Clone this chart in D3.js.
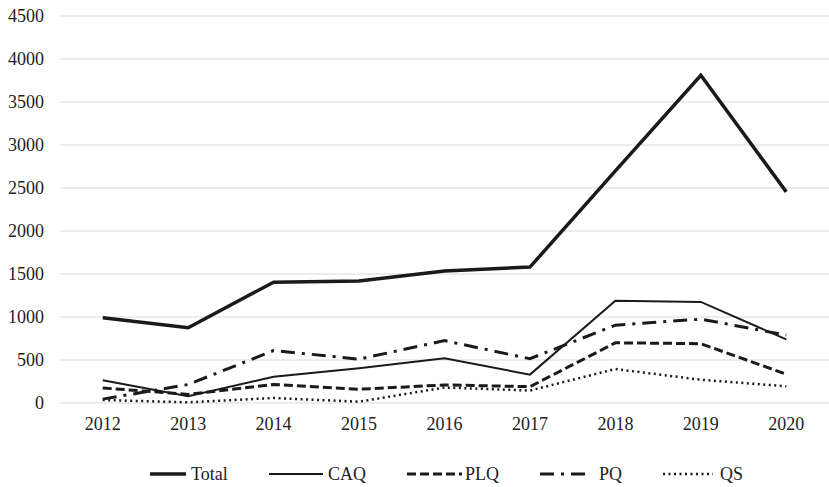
<html>
    <head>
        <script src="https://cdn.jsdelivr.net/npm/d3@7"></script>
        <style>
            body { margin: 0; background: #fff; }
            text { font-family: "Liberation Serif", "Times New Roman", serif; font-size: 18px; fill: #222; }
        </style>
    </head>
    <body>
        <svg width="829" height="487"></svg>
        <script>

            // Data:
            var years = ["2012", "2013", "2014", "2015", "2016", "2017", "2018", "2019", "2020"];
            var total = [990, 875, 1405, 1420, 1535, 1580, 2700, 3810, 2455];
            var caq = [265, 80, 305, 405, 520, 330, 1190, 1175, 740];
            var plq = [175, 100, 215, 160, 210, 190, 700, 690, 335];
            var pq = [45, 215, 610, 510, 725, 515, 905, 975, 790];
            var qs = [35, 8, 58, 15, 180, 145, 395, 270, 195];
            var yTicks = [0, 500, 1000, 1500, 2000, 2500, 3000, 3500, 4000, 4500];

            var series = [
                { name: "Total", values: total, width: 3.5, dash: null },
                { name: "CAQ", values: caq, width: 2, dash: null },
                { name: "PLQ", values: plq, width: 3, dash: "9,4" },
                { name: "PQ", values: pq, width: 3, dash: "14,7,3,7" },
                { name: "QS", values: qs, width: 2.5, dash: "2,3.5" }
            ];

            var svg = d3.select("svg");

            var x = d3.scaleBand().domain(years).range([60, 829]);
            var y = d3.scaleLinear().domain([0, 4500]).range([403, 16]);

            // Gridlines
            svg.append("g").selectAll("line")
                .data(yTicks)
                .enter().append("line")
                    .attr("x1", 60).attr("x2", 829)
                    .attr("y1", function(d) { return y(d); })
                    .attr("y2", function(d) { return y(d); })
                    .attr("stroke", "#d9d9d9")
                    .attr("stroke-width", 1.2);

            // Y axis labels
            svg.append("g").selectAll("text")
                .data(yTicks)
                .enter().append("text")
                    .attr("x", 44)
                    .attr("y", function(d) { return y(d); })
                    .attr("dy", ".35em")
                    .attr("text-anchor", "end")
                    .text(function(d) { return d; });

            // X axis labels
            svg.append("g").selectAll("text")
                .data(years)
                .enter().append("text")
                    .attr("x", function(d) { return x(d) + x.bandwidth() / 2; })
                    .attr("y", 430)
                    .attr("text-anchor", "middle")
                    .text(function(d) { return d; });

            // Lines
            var line = d3.line()
                .x(function(d, i) { return x(years[i]) + x.bandwidth() / 2; })
                .y(function(d) { return y(d); });

            svg.append("g").selectAll("path")
                .data(series.slice().reverse())
                .enter().append("path")
                    .attr("d", function(s) { return line(s.values); })
                    .attr("fill", "none")
                    .attr("stroke", "#1a1a1a")
                    .attr("stroke-width", function(s) { return s.width; })
                    .attr("stroke-dasharray", function(s) { return s.dash; });

            // Legend
            var legendPos = [
                { x1: 150, x2: 186, tx: 191 },
                { x1: 269, x2: 323, tx: 328 },
                { x1: 407, x2: 462, tx: 465 },
                { x1: 540, x2: 588, tx: 599 },
                { x1: 663, x2: 713, tx: 720 }
            ];
            var legend = svg.append("g").selectAll("g")
                .data(series)
                .enter().append("g");
            legend.append("line")
                .attr("x1", function(d, i) { return legendPos[i].x1; })
                .attr("x2", function(d, i) { return legendPos[i].x2; })
                .attr("y1", 474).attr("y2", 474)
                .attr("stroke", "#1a1a1a")
                .attr("stroke-width", function(s) { return s.width; })
                .attr("stroke-dasharray", function(s) { return s.dash; });
            legend.append("text")
                .attr("x", function(d, i) { return legendPos[i].tx; })
                .attr("y", 474)
                .attr("dy", ".35em")
                .text(function(s) { return s.name; });

        </script>
    </body>
</html>
